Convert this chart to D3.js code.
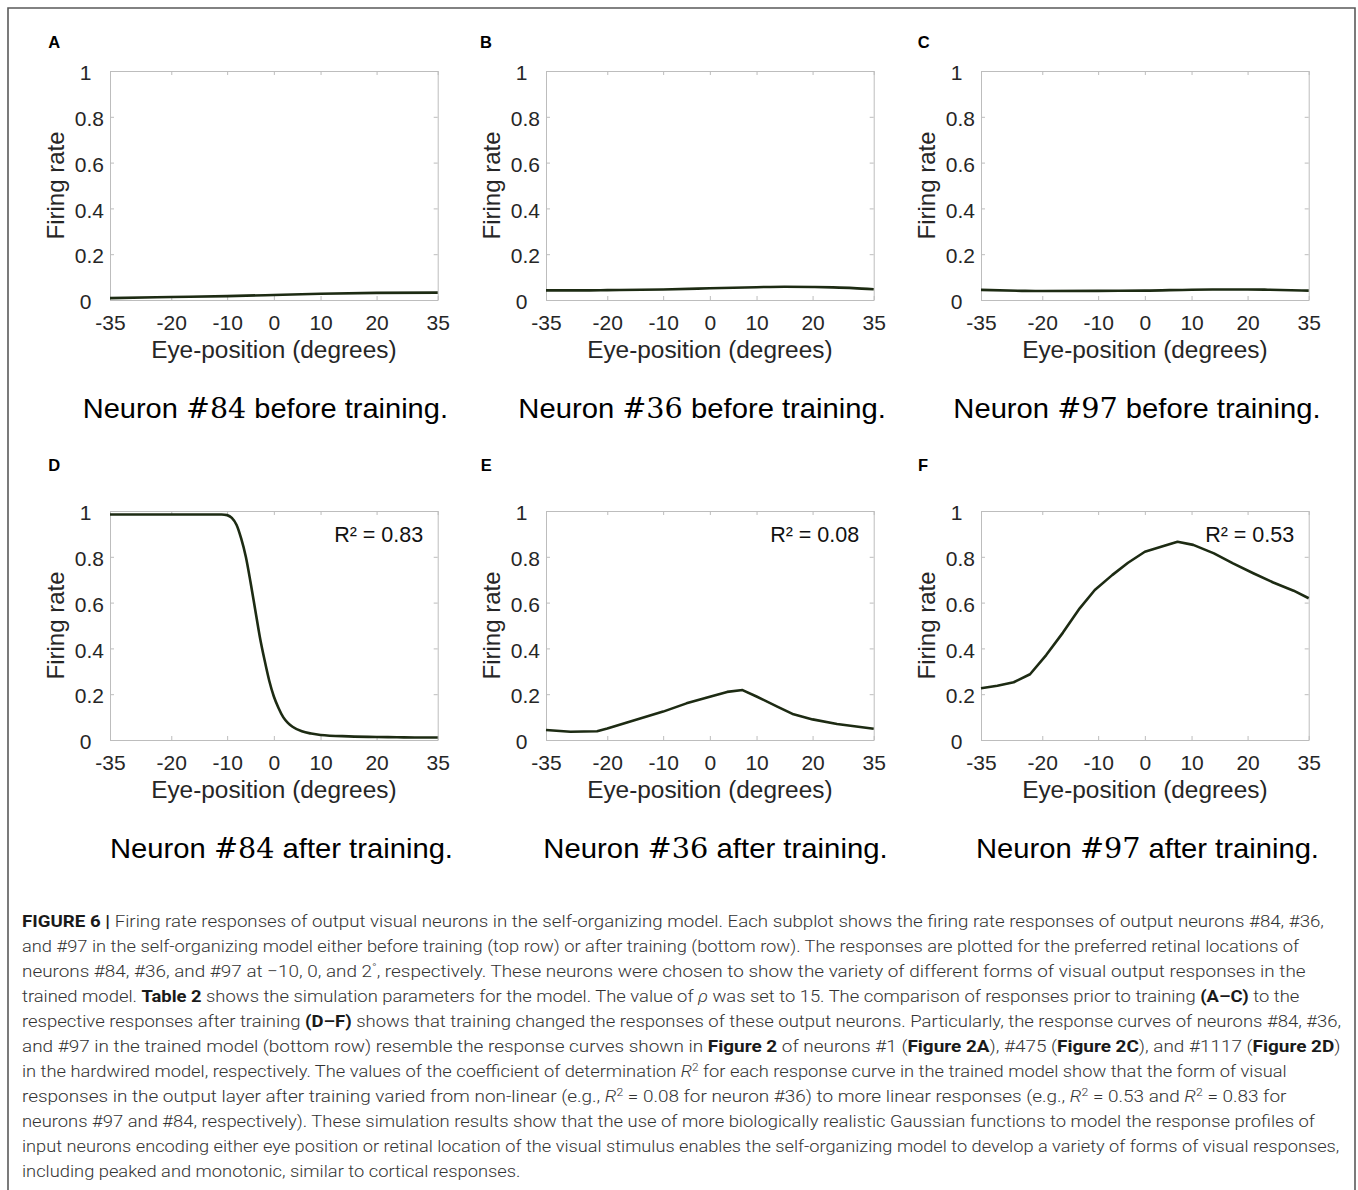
<!DOCTYPE html>
<html>
<head>
<meta charset="utf-8">
<script src="https://cdn.jsdelivr.net/npm/d3@7"></script>
<style>
  body { margin: 0; background: #fff; }
  svg { display: block; }
</style>
</head>
<body>
<svg id="fig" width="1358" height="1190"></svg>
<script>
// ---- axis ticks ----
const xTicks = [-35, -20, -10, 0, 10, 20, 35];
const yTicks = [0, 0.2, 0.4, 0.6, 0.8, 1];

// ---- firing-rate responses (eye position in degrees, rate 0..1) ----
// Neuron #84 before training
const eyeA  = [-35, -20, -10, 0, 10, 20, 35];
const rateA = [0.008, 0.013, 0.017, 0.022, 0.027, 0.031, 0.032];
// Neuron #36 before training
const eyeB  = [-35, -25, -20, -10, 0, 10, 15, 20, 25, 30, 35];
const rateB = [0.042, 0.042, 0.043, 0.046, 0.051, 0.056, 0.058, 0.057, 0.055, 0.052, 0.047];
// Neuron #97 before training
const eyeC  = [-35, -25, -20, -10, 0, 10, 15, 20, 25, 35];
const rateC = [0.044, 0.040, 0.039, 0.040, 0.041, 0.045, 0.046, 0.046, 0.045, 0.041];
// Neuron #84 after training
const eyeD  = [-35, -25, -15, -11, -10, -9, -8, -7, -6, -5, -4, -3, -2, -1, 0, 1, 2, 3, 4, 6, 8, 10, 15, 20, 25, 30, 35];
const rateD = [0.985, 0.985, 0.985, 0.985, 0.982, 0.97, 0.94, 0.88, 0.80, 0.69, 0.57, 0.45, 0.35, 0.26, 0.19, 0.14, 0.10, 0.075, 0.058, 0.038, 0.028, 0.022, 0.016, 0.013, 0.012, 0.011, 0.011];
// Neuron #36 after training
const eyeE  = [-35, -29, -22.5, -20, -15, -10, -5, 0, 3.7, 7, 10, 13.7, 16.6, 20, 26, 35];
const rateE = [0.044, 0.036, 0.038, 0.050, 0.087, 0.124, 0.160, 0.189, 0.210, 0.218, 0.190, 0.146, 0.112, 0.090, 0.070, 0.049];
// Neuron #97 after training
const eyeF  = [-35, -31, -27, -23, -19.3, -16.3, -13.3, -10.6, -7, -3.6, 0, 4, 7, 10.3, 14, 17.4, 21.4, 26.3, 31.3, 35];
const rateF = [0.226, 0.237, 0.252, 0.287, 0.371, 0.469, 0.575, 0.655, 0.720, 0.774, 0.822, 0.847, 0.866, 0.852, 0.815, 0.771, 0.728, 0.688, 0.652, 0.619];

// ---- panel texts ----
const panelLetters = ["A", "B", "C", "D", "E", "F"];
const neuronIds    = ["84", "36", "97", "84", "36", "97"];
const stages       = ["before", "before", "before", "after", "after", "after"];
const r2Labels     = [null, null, null, "0.83", "0.08", "0.53"];

// ---- caption ----
// each segment: [text, style]  (style: "" regular, "b" bold, "i" italic, "s" superscript)
const captionLines = [
  [["FIGURE 6 | ", "b"], ["Firing rate responses of output visual neurons in the self-organizing model. Each subplot shows the firing rate responses of output neurons #84, #36,", ""]],
  [["and #97 in the self-organizing model either before training (top row) or after training (bottom row). The responses are plotted for the preferred retinal locations of", ""]],
  [["neurons #84, #36, and #97 at \u221210, 0, and 2", ""], ["\u00b0", "s"], [", respectively. These neurons were chosen to show the variety of different forms of visual output responses in the", ""]],
  [["trained model. ", ""], ["Table 2", "b"], [" shows the simulation parameters for the model. The value of ", ""], ["\u03c1", "i"], [" was set to 15. The comparison of responses prior to training ", ""], ["(A\u2013C)", "b"], [" to the", ""]],
  [["respective responses after training ", ""], ["(D\u2013F)", "b"], [" shows that training changed the responses of these output neurons. Particularly, the response curves of neurons #84, #36,", ""]],
  [["and #97 in the trained model (bottom row) resemble the response curves shown in ", ""], ["Figure 2", "b"], [" of neurons #1 (", ""], ["Figure 2A", "b"], ["), #475 (", ""], ["Figure 2C", "b"], ["), and #1117 (", ""], ["Figure 2D", "b"], [")", ""]],
  [["in the hardwired model, respectively. The values of the coefficient of determination ", ""], ["R", "i"], ["2", "s"], [" for each response curve in the trained model show that the form of visual", ""]],
  [["responses in the output layer after training varied from non-linear (e.g., ", ""], ["R", "i"], ["2", "s"], [" = 0.08 for neuron #36) to more linear responses (e.g., ", ""], ["R", "i"], ["2", "s"], [" = 0.53 and ", ""], ["R", "i"], ["2", "s"], [" = 0.83 for", ""]],
  [["neurons #97 and #84, respectively). These simulation results show that the use of more biologically realistic Gaussian functions to model the response profiles of", ""]],
  [["input neurons encoding either eye position or retinal location of the visual stimulus enables the self-organizing model to develop a variety of forms of visual responses,", ""]],
  [["including peaked and monotonic, similar to cortical responses.", ""]]
];
const captionLineEnds = [1325, 1300, 1306, 1300, 1341, 1341, 1287, 1287, 1315, 1340, 521];

// ---------------------------------------------------------------
const svg = d3.select("#fig");
const SANS = "'Liberation Sans', Arial, Helvetica, sans-serif";
const TXT = "#262626";

// outer frame of the figure
svg.append("path")
  .attr("d", "M8,1190 V8 H1355 V1190")
  .attr("fill", "none").attr("stroke", "#5a5a5a").attr("stroke-width", 1.6);

const series = [[eyeA, rateA], [eyeB, rateB], [eyeC, rateC], [eyeD, rateD], [eyeE, rateE], [eyeF, rateF]];
const colLeft = [110, 546, 981];
const rowTop = [71, 511];
const subtitleLeft = [82.7, 518.3, 953.3, 110, 543.3, 976];
const subtitleRight = [448, 886, 1320.7, 453, 887.7, 1319];
const letterLeft = [48.3, 480, 917.7, 48.3, 480.7, 918];
const W = 327.7, H = 229;
// eye-position axis breakpoints along the plot width
const xFrac = [0, 0.187, 0.3575, 0.5, 0.6425, 0.8135, 1];

series.forEach((s, i) => {
  const col = i % 3, row = Math.floor(i / 3);
  const left = colLeft[col], top = rowTop[row];
  const x = d3.scaleLinear().domain(xTicks).range(xFrac.map(f => f * W));
  const y = d3.scaleLinear().domain([0, 1]).range([H, 0]);
  const g = svg.append("g").attr("transform", `translate(${left},${top})`);

  // box axes with inward ticks on all four sides
  const boxColor = "#bdbdbd";
  const bottom = g.append("g").attr("transform", `translate(0,${H})`)
    .call(d3.axisBottom(x).tickValues(xTicks).tickSizeInner(-4).tickSizeOuter(0).tickPadding(14.6).tickFormat(d => String(d)));
  const leftAx = g.append("g")
    .call(d3.axisLeft(y).tickValues(yTicks).tickSizeInner(-4).tickSizeOuter(0).tickPadding(6)
      .tickFormat(d => d === 0 || d === 1 ? String(d) : d3.format(".1f")(d)));
  const topAx = g.append("g")
    .call(d3.axisTop(x).tickValues(xTicks).tickSizeInner(-4).tickSizeOuter(0).tickFormat(""));
  const rightAx = g.append("g").attr("transform", `translate(${W},0)`)
    .call(d3.axisRight(y).tickValues(yTicks).tickSizeInner(-4).tickSizeOuter(0).tickFormat(""));
  [bottom, leftAx, topAx, rightAx].forEach(a => {
    a.select(".domain").attr("stroke", boxColor).attr("stroke-width", 1);
    a.selectAll(".tick line").attr("stroke", boxColor).attr("stroke-width", 1);
    a.selectAll("text").attr("font-family", SANS).attr("font-size", 21).attr("fill", TXT);
  });
  leftAx.selectAll(".tick text").attr("dy", "0.32em").attr("y", 2);
  leftAx.selectAll(".tick text").filter(d => d === 0 || d === 1)
    .attr("text-anchor", "middle").attr("x", -24.5);

  // response curve
  const pts = s[0].map((v, k) => [v, s[1][k]]);
  const curve = i >= 4 ? d3.curveLinear : d3.curveMonotoneX;
  g.append("path").datum(pts)
    .attr("d", d3.line().x(d => x(d[0])).y(d => y(d[1])).curve(curve))
    .attr("fill", "none").attr("stroke", "#1d2b13").attr("stroke-width", 2.6)
    .attr("stroke-linejoin", "round");

  // axis titles
  g.append("text").attr("x", W / 2).attr("y", H + 58.3)
    .attr("text-anchor", "middle").attr("font-family", SANS).attr("font-size", 24.4)
    .attr("fill", TXT).text("Eye-position (degrees)");
  g.append("text").attr("transform", `translate(-46,${H / 2}) rotate(-90)`)
    .attr("text-anchor", "middle").attr("font-family", SANS).attr("font-size", 24)
    .attr("fill", TXT).text("Firing rate");

  // R² annotation
  if (r2Labels[i]) {
    g.append("text").attr("x", W - 14.5).attr("y", 31.3)
      .attr("text-anchor", "end").attr("font-family", SANS).attr("font-size", 21.5).attr("fill", "#111")
      .text("R\u00b2 = " + r2Labels[i]);
  }

  // panel letter
  svg.append("text").attr("x", letterLeft[i]).attr("y", row === 0 ? 47.7 : 471)
    .attr("font-family", SANS).attr("font-weight", "bold").attr("font-size", 16.5)
    .attr("fill", "#000").text(panelLetters[i]);

  // subtitle under each plot
  const st = svg.append("text").attr("x", subtitleLeft[i]).attr("y", row === 0 ? 418.3 : 858.3)
    .attr("font-family", SANS).attr("font-size", 28.5).attr("fill", "#000")
    .attr("textLength", subtitleRight[i] - subtitleLeft[i]).attr("lengthAdjust", "spacingAndGlyphs");
  st.append("tspan").text("Neuron ");
  st.append("tspan").attr("font-family", "'DejaVu Serif', 'Liberation Serif', serif").attr("font-size", 28)
    .text("#" + neuronIds[i]);
  st.append("tspan").text(" " + stages[i] + " training.");
});

// caption block, each line fitted to its measured width
const CAP = "Roboto, 'Liberation Sans', sans-serif";
captionLines.forEach((segs, li) => {
  const x0 = 22, yb = 927.3 + li * 25;
  const g = svg.append("g");
  const t = g.append("text").attr("x", 0).attr("y", 0)
    .attr("font-family", CAP).attr("font-size", 17).attr("font-weight", 300).attr("fill", "#333");
  segs.forEach(([txt, st]) => {
    const sp = t.append("tspan").text(txt);
    if (st === "b") sp.attr("font-weight", 700).attr("fill", "#1a1a1a");
    if (st === "i") sp.attr("font-style", "italic");
    if (st === "s") sp.attr("font-size", 11).attr("baseline-shift", "super");
  });
  const natural = t.node().getComputedTextLength();
  const k = (captionLineEnds[li] - x0) / natural;
  g.attr("transform", `translate(${x0},${yb}) scale(${k},1)`);
});
</script>
</body>
</html>
